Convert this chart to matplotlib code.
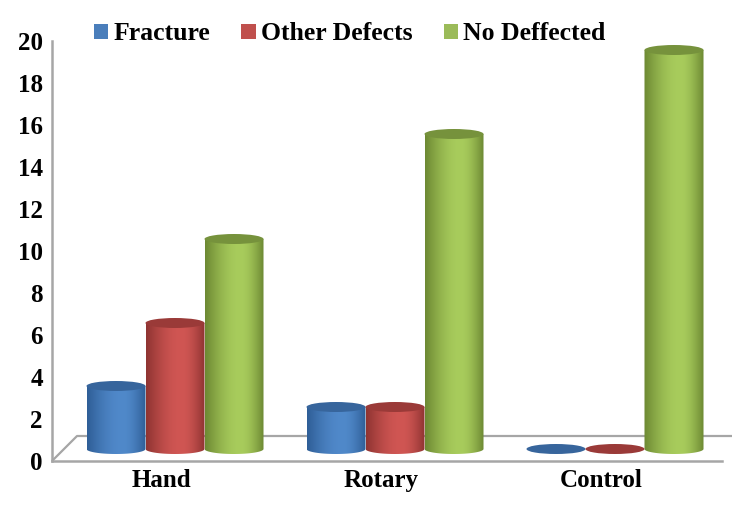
import numpy as np
import matplotlib
matplotlib.use("Agg")
import matplotlib.pyplot as plt
from matplotlib.colors import LinearSegmentedColormap
from matplotlib.patches import Ellipse, PathPatch, Rectangle
from matplotlib.path import Path

categories = ["Hand", "Rotary", "Control"]
series_names = ["Fracture", "Other Defects", "No Deffected"]
fracture = [3, 2, 0]
other_defects = [6, 2, 0]
no_deffected = [10, 15, 19]
yticks = list(range(0, 21, 2))

# edge, light, top-cap colours
colors = [
    ("#2f5e97", "#5089ca", "#37659c"),
    ("#8f3432", "#d05653", "#9a3a38"),
    ("#6d8933", "#a8cc5c", "#76923c"),
]
legend_colors = ["#4a7ebb", "#c0504d", "#9bbb59"]
grey = "#a6a6a6"

plt.rcParams["font.family"] = ["Liberation Serif", "DejaVu Serif"]
plt.rcParams["font.weight"] = "bold"

W, H = 751, 508
fig = plt.figure(figsize=(W / 100, H / 100), dpi=100)
ax = fig.add_axes([52 / W, 1 - 461 / H, 670 / W, 420 / H])

# 220 px per category, 21 px per unit
x_lo, x_hi = (52 - 161) / 220, (722 - 161) / 220
ax.set_xlim(x_lo, x_hi)
ax.set_ylim(0, 20)

bar_w = 59 / 220
group_shift = 14 / 220
base = 12 / 21        # bars stand this far behind the front edge of the floor
cap = 5 / 21          # half height of the ellipses

def cylinder(xc, value, col):
    edge, light, top = col
    left, right = xc - bar_w / 2, xc + bar_w / 2
    y0, y1 = base, base + value
    if value > 0:
        t = np.linspace(np.pi, 2 * np.pi, 40)
        xs = xc + bar_w / 2 * np.cos(t)
        ys = y0 + cap * np.sin(t)
        verts = list(zip(xs, ys)) + [(right, y1), (left, y1), (left, y0)]
        codes = [Path.MOVETO] + [Path.LINETO] * (len(verts) - 2) + [Path.CLOSEPOLY]
        clip = PathPatch(Path(verts, codes), transform=ax.transData, fc="none", ec="none")
        ax.add_patch(clip)
        cmap = LinearSegmentedColormap.from_list("c", [edge, light, edge], N=256)
        # brightest a bit right of the middle, soft fall-off to both sides
        u = np.linspace(0, 1, 128)
        grad = np.where(u < 0.6, 0.5 * np.sin(u / 0.6 * np.pi / 2),
                        1 - 0.5 * np.sin((1 - u) / 0.4 * np.pi / 2)).reshape(1, -1)
        im = ax.imshow(grad, extent=(left, right, y0 - cap, y1), aspect="auto",
                       cmap=cmap, vmin=0, vmax=1, zorder=3, origin="lower")
        im.set_clip_path(clip)
    ax.add_patch(Ellipse((xc, y1), bar_w, 2 * cap, fc=top, ec="none", zorder=3.1))

all_series = [fracture, other_defects, no_deffected]
for s, (vals, col) in enumerate(zip(all_series, colors)):
    for i, v in enumerate(vals):
        cylinder(i + group_shift + (s - 1) * bar_w, v, col)

# back edge of the floor
depth = 25 / 21
back_left = x_lo + 25 / 220
back_right = x_hi + 10 / 220
ax.plot([x_lo, back_left, back_right], [0, depth, depth], color=grey, lw=1.6,
        clip_on=False, zorder=1, solid_capstyle="butt")

ax.set_xticks(range(len(categories)), categories)
ax.set_yticks(yticks)
ax.tick_params(length=0, labelsize=18)
ax.tick_params(axis="y", pad=6.5)
ax.tick_params(axis="x", pad=5.5)
for side in ("top", "right"):
    ax.spines[side].set_visible(False)
for side in ("left", "bottom"):
    ax.spines[side].set_color(grey)
    ax.spines[side].set_linewidth(1.8)
ax.patch.set_alpha(0)
ax.set_xlim(x_lo, x_hi)
ax.set_ylim(0, 20)

handles = [Rectangle((0, 0), 1, 1, fc=c, ec="none") for c in legend_colors]
fig.legend(handles, series_names, ncol=3, frameon=False, fontsize=18.5,
           loc="center left", bbox_to_anchor=(94 / W, 1 - 34 / H), borderpad=0, borderaxespad=0,
           handlelength=0.55, handleheight=0.55, handletextpad=0.2, columnspacing=1.22)

fig.savefig("out.png", dpi=100, facecolor="white")
